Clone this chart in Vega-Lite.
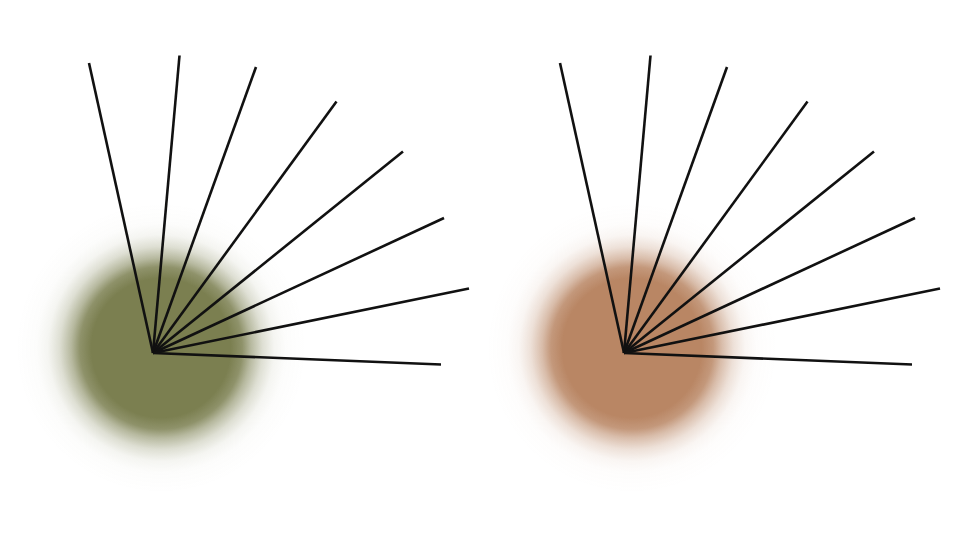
{
  "$schema": "https://vega.github.io/schema/vega-lite/v6.json",
  "padding": 0,
  "autosize": {"type": "pad"},
  "background": "white",
  "data": {
    "values": [
      {"panel": "a", "kind": "blob", "x": 8, "y": 5},
      {"panel": "b", "kind": "blob", "x": 8, "y": 5},
      {"panel": "a", "kind": "ray", "x": 0, "y": 0, "x2": -64, "y2": 290},
      {"panel": "a", "kind": "ray", "x": 0, "y": 0, "x2": 26.5, "y2": 297.5},
      {"panel": "a", "kind": "ray", "x": 0, "y": 0, "x2": 103, "y2": 286},
      {"panel": "a", "kind": "ray", "x": 0, "y": 0, "x2": 183.5, "y2": 251.5},
      {"panel": "a", "kind": "ray", "x": 0, "y": 0, "x2": 250, "y2": 201.5},
      {"panel": "a", "kind": "ray", "x": 0, "y": 0, "x2": 291, "y2": 135},
      {"panel": "a", "kind": "ray", "x": 0, "y": 0, "x2": 316, "y2": 64.5},
      {"panel": "a", "kind": "ray", "x": 0, "y": 0, "x2": 288, "y2": -11.5},
      {"panel": "b", "kind": "ray", "x": 0, "y": 0, "x2": -64, "y2": 290},
      {"panel": "b", "kind": "ray", "x": 0, "y": 0, "x2": 26.5, "y2": 297.5},
      {"panel": "b", "kind": "ray", "x": 0, "y": 0, "x2": 103, "y2": 286},
      {"panel": "b", "kind": "ray", "x": 0, "y": 0, "x2": 183.5, "y2": 251.5},
      {"panel": "b", "kind": "ray", "x": 0, "y": 0, "x2": 250, "y2": 201.5},
      {"panel": "b", "kind": "ray", "x": 0, "y": 0, "x2": 291, "y2": 135},
      {"panel": "b", "kind": "ray", "x": 0, "y": 0, "x2": 316, "y2": 64.5},
      {"panel": "b", "kind": "ray", "x": 0, "y": 0, "x2": 288, "y2": -11.5}
    ]
  },
  "facet": {"column": {"field": "panel", "type": "nominal", "header": null}},
  "spacing": 0,
  "spec": {
    "width": 470,
    "height": 540,
    "layer": [
      {
        "transform": [{"filter": "datum.kind === 'blob' && datum.panel === 'a'"}],
        "mark": {
          "type": "point",
          "shape": "circle",
          "filled": true,
          "opacity": 1,
          "strokeWidth": 0,
          "size": 84100,
          "fill": {
            "gradient": "radial",
            "x1": 0.5, "y1": 0.5, "r1": 0,
            "x2": 0.5, "y2": 0.5, "r2": 0.5,
            "stops": [
              {"offset": 0, "color": "rgba(123,127,80,1)"},
              {"offset": 0.48, "color": "rgba(123,127,80,1)"},
              {"offset": 0.56, "color": "rgba(123,127,80,0.85)"},
              {"offset": 0.62, "color": "rgba(123,127,80,0.55)"},
              {"offset": 0.7, "color": "rgba(123,127,80,0.25)"},
              {"offset": 0.78, "color": "rgba(123,127,80,0.08)"},
              {"offset": 0.86, "color": "rgba(123,127,80,0.02)"},
              {"offset": 1, "color": "rgba(123,127,80,0)"}
            ]
          }
        },
        "encoding": {
          "x": {"field": "x", "type": "quantitative", "scale": {"domain": [-153, 317]}, "axis": null},
          "y": {"field": "y", "type": "quantitative", "scale": {"domain": [-187, 353]}, "axis": null}
        }
      },
      {
        "transform": [{"filter": "datum.kind === 'blob' && datum.panel === 'b'"}],
        "mark": {
          "type": "point",
          "shape": "circle",
          "filled": true,
          "opacity": 1,
          "strokeWidth": 0,
          "size": 84100,
          "fill": {
            "gradient": "radial",
            "x1": 0.5, "y1": 0.5, "r1": 0,
            "x2": 0.5, "y2": 0.5, "r2": 0.5,
            "stops": [
              {"offset": 0, "color": "rgba(185,134,100,1)"},
              {"offset": 0.48, "color": "rgba(185,134,100,1)"},
              {"offset": 0.56, "color": "rgba(185,134,100,0.85)"},
              {"offset": 0.62, "color": "rgba(185,134,100,0.55)"},
              {"offset": 0.7, "color": "rgba(185,134,100,0.25)"},
              {"offset": 0.78, "color": "rgba(185,134,100,0.08)"},
              {"offset": 0.86, "color": "rgba(185,134,100,0.02)"},
              {"offset": 1, "color": "rgba(185,134,100,0)"}
            ]
          }
        },
        "encoding": {
          "x": {"field": "x", "type": "quantitative", "scale": {"domain": [-153, 317]}, "axis": null},
          "y": {"field": "y", "type": "quantitative", "scale": {"domain": [-187, 353]}, "axis": null}
        }
      },
      {
        "transform": [{"filter": "datum.kind === 'ray'"}],
        "mark": {"type": "rule", "color": "#111111", "strokeWidth": 2.6},
        "encoding": {
          "x": {"field": "x", "type": "quantitative", "scale": {"domain": [-153, 317]}, "axis": null},
          "y": {"field": "y", "type": "quantitative", "scale": {"domain": [-187, 353]}, "axis": null},
          "x2": {"field": "x2"},
          "y2": {"field": "y2"}
        }
      }
    ]
  },
  "config": {"view": {"stroke": null}}
}
